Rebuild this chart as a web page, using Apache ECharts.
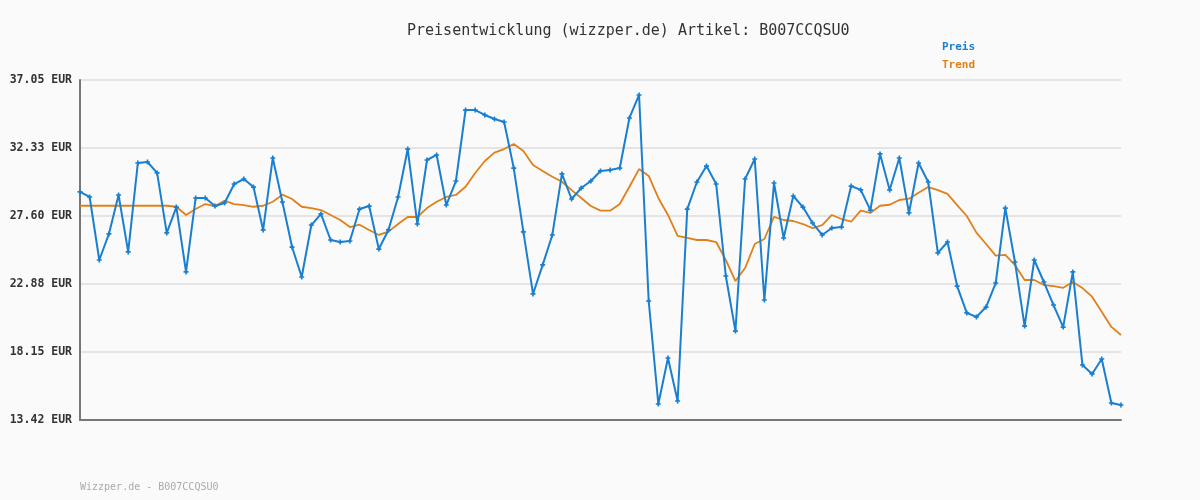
<!DOCTYPE html>
<html><head><meta charset="utf-8">
<script src="https://cdn.jsdelivr.net/npm/echarts@6/dist/echarts.min.js"></script>
<style>html,body{margin:0;padding:0;background:#fafafa}#c{width:1200px;height:500px}</style>
</head><body><div id="c"></div>
<script>
const preis = [29.27,28.92,24.54,26.35,29.06,25.1,31.28,31.35,30.59,26.42,28.22,23.71,28.85,28.85,28.29,28.5,29.82,30.17,29.61,26.63,31.63,28.57,25.44,23.36,26.97,27.74,25.93,25.79,25.86,28.08,28.29,25.3,26.63,28.92,32.25,27.04,31.49,31.84,28.36,30.03,34.96,34.96,34.62,34.34,34.13,30.93,26.49,22.18,24.2,26.28,30.52,28.78,29.54,30.03,30.73,30.8,30.93,34.41,36.01,21.69,14.53,17.73,14.74,28.08,29.96,31.07,29.82,23.43,19.6,30.17,31.56,21.76,29.89,26.07,28.99,28.22,27.11,26.28,26.76,26.83,29.68,29.41,28.01,31.91,29.41,31.63,27.81,31.28,29.96,25.03,25.79,22.73,20.86,20.58,21.27,22.94,28.15,24.4,19.95,24.54,23.01,21.41,19.88,23.71,17.24,16.62,17.66,14.6,14.46];
const trend = [28.31,28.31,28.31,28.31,28.31,28.31,28.31,28.31,28.31,28.31,28.24,27.67,28.08,28.43,28.29,28.66,28.43,28.36,28.24,28.31,28.59,29.08,28.78,28.24,28.15,28.01,27.67,27.32,26.83,26.99,26.63,26.28,26.51,27.04,27.53,27.53,28.15,28.59,28.92,29.06,29.63,30.59,31.42,32.0,32.25,32.6,32.12,31.14,30.73,30.33,29.98,29.4,28.85,28.29,27.97,27.97,28.43,29.63,30.86,30.38,28.85,27.67,26.21,26.07,25.93,25.93,25.79,24.54,23.08,23.98,25.65,26.0,27.53,27.32,27.25,27.04,26.76,26.97,27.67,27.39,27.2,27.97,27.81,28.31,28.38,28.71,28.8,29.22,29.61,29.4,29.13,28.36,27.6,26.44,25.65,24.84,24.89,24.19,23.15,23.15,22.8,22.73,22.61,23.01,22.59,21.99,20.95,19.89,19.33];
const tickValues = [13.42,18.15,22.88,27.60,32.33,37.05];
const categories = preis.map((_, i) => String(i + 1));
const mono = '"DejaVu Sans Mono", monospace';
const chart = echarts.init(document.getElementById('c'));
chart.setOption({
  backgroundColor: '#fafafa',
  animation: false,
  title: {text: 'Preisentwicklung (wizzper.de) Artikel: B007CCQSU0', left: 402, top: 19,
    textStyle: {fontFamily: mono, fontSize: 15, fontWeight: 'normal', color: '#333'}},
  legend: {orient: 'vertical', left: 932, top: 35, itemGap: 6, icon: 'none', itemWidth: 0,
    selectedMode: false,
    data: [{name: 'Preis', textStyle: {color: '#1a7fcf'}}, {name: 'Trend', textStyle: {color: '#e0801a'}}],
    textStyle: {fontFamily: mono, fontSize: 11, fontWeight: 'bold'}},
  graphic: [{type: 'text', left: 80, top: 482, style: {text: 'Wizzper.de - B007CCQSU0', fill: '#aaa', font: '10px ' + mono}}],
  grid: {left: 80, right: 79, top: 80, bottom: 80},
  xAxis: {type: 'category', data: categories, boundaryGap: false,
    axisLine: {lineStyle: {color: '#777', width: 2}}, axisTick: {show: false}, axisLabel: {show: false}},
  yAxis: {type: 'value', min: 13.42, max: 37.05,
    axisLine: {show: true, lineStyle: {color: '#777', width: 2}},
    axisTick: {show: false, customValues: tickValues},
    axisLabel: {customValues: tickValues, formatter: v => v.toFixed(2) + ' EUR', margin: 8,
      fontFamily: mono, fontSize: 11.5, fontWeight: 'bold', color: '#333'},
    splitLine: {show: true, lineStyle: {color: '#e4e4e4', width: 2}}},
  series: [
    {name: 'Preis', type: 'line', data: preis, symbol: 'path://M-1,-3h2v2h2v2h-2v2h-2v-2h-2v-2h2z', symbolSize: 5,
      itemStyle: {color: '#1a7fcf'}, lineStyle: {color: '#1a7fcf', width: 2}, z: 3},
    {name: 'Trend', type: 'line', data: trend, showSymbol: false, symbol: 'none',
      itemStyle: {color: '#e0801a'}, lineStyle: {color: '#e0801a', width: 1.8}, z: 2}
  ]
});
</script></body></html>
